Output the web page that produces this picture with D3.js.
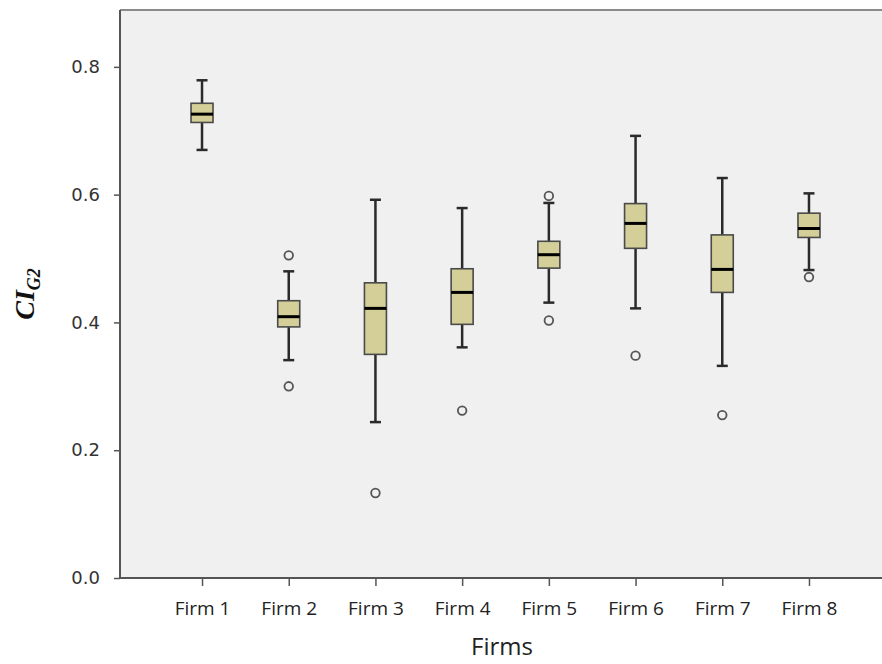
<!DOCTYPE html>
<html>
<head>
<meta charset="utf-8">
<script src="https://cdn.jsdelivr.net/npm/d3@7"></script>
<style>
  body { margin: 0; background: #fff; }
  svg { display: block; }
</style>
</head>
<body>
<div id="viz"></div>
<script>
// values
var firms = ["Firm 1", "Firm 2", "Firm 3", "Firm 4", "Firm 5", "Firm 6", "Firm 7", "Firm 8"];
var whiskerLow  = [0.670, 0.341, 0.244, 0.361, 0.431, 0.422, 0.332, 0.482];
var q1          = [0.713, 0.393, 0.350, 0.397, 0.485, 0.516, 0.447, 0.533];
var median      = [0.726, 0.409, 0.422, 0.447, 0.506, 0.555, 0.483, 0.547];
var q3          = [0.743, 0.434, 0.462, 0.484, 0.527, 0.586, 0.537, 0.571];
var whiskerHigh = [0.779, 0.480, 0.592, 0.579, 0.587, 0.692, 0.626, 0.602];
var outliers    = [[], [0.505, 0.300], [0.133], [0.262], [0.598, 0.403], [0.348], [0.255], [0.471]];
var yTicks = [0.0, 0.2, 0.4, 0.6, 0.8];

var W = 882, H = 664;
var plotLeft = 120, plotTop = 10, plotBottom = 578;

var svg = d3.select("#viz").append("svg")
  .attr("width", W)
  .attr("height", H);

var yScale = d3.scaleLinear()
  .domain([0, 0.889])
  .range([plotBottom, plotTop]);

var xScale = d3.scalePoint()
  .domain(firms)
  .range([plotLeft, 891])
  .padding(0.946);

// plot background
svg.append("rect")
  .attr("x", plotLeft)
  .attr("y", plotTop)
  .attr("width", W - plotLeft)
  .attr("height", plotBottom - plotTop)
  .attr("fill", "#f0f0f0");

// top frame line
svg.append("line")
  .attr("x1", plotLeft).attr("x2", W)
  .attr("y1", plotTop).attr("y2", plotTop)
  .attr("stroke", "#8a8a8a")
  .attr("stroke-width", 2);

// axes
var y_axis = d3.axisLeft(yScale)
  .tickValues(yTicks)
  .tickFormat(d3.format(".1f"))
  .tickSize(6)
  .tickPadding(14);

var gy = svg.append("g")
  .attr("transform", "translate(" + plotLeft + ",0)")
  .call(y_axis);
gy.select(".domain").attr("stroke", "#555").attr("stroke-width", 2).attr("d", "M0," + plotTop + "V" + plotBottom);
gy.selectAll(".tick line").attr("stroke", "#555").attr("stroke-width", 1.5);
gy.selectAll(".tick text")
  .style("font-family", "DejaVu Sans, sans-serif")
  .style("font-size", "18px")
  .attr("fill", "#333");

var x_axis = d3.axisBottom(xScale)
  .tickSize(8)
  .tickPadding(16);

var gx = svg.append("g")
  .attr("transform", "translate(0," + plotBottom + ")")
  .call(x_axis);
gx.select(".domain").attr("stroke", "#555").attr("stroke-width", 2).attr("d", "M" + plotLeft + ",0H" + W);
gx.selectAll(".tick line").attr("stroke", "#555").attr("stroke-width", 1.5);
gx.selectAll(".tick text")
  .style("font-family", "Open Sans, sans-serif")
  .style("font-size", "19px")
  .attr("fill", "#222");

// boxes
var boxW = 22, capW = 11;
var g = svg.append("g");

firms.forEach(function(f, i) {
  var cx = xScale(f);
  // whiskers
  g.append("line")
    .attr("x1", cx).attr("x2", cx)
    .attr("y1", yScale(whiskerHigh[i])).attr("y2", yScale(q3[i]))
    .attr("stroke", "#2a2a2a").attr("stroke-width", 2.5);
  g.append("line")
    .attr("x1", cx).attr("x2", cx)
    .attr("y1", yScale(q1[i])).attr("y2", yScale(whiskerLow[i]))
    .attr("stroke", "#2a2a2a").attr("stroke-width", 2.5);
  [whiskerHigh[i], whiskerLow[i]].forEach(function(v) {
    g.append("line")
      .attr("x1", cx - capW / 2).attr("x2", cx + capW / 2)
      .attr("y1", yScale(v)).attr("y2", yScale(v))
      .attr("stroke", "#2a2a2a").attr("stroke-width", 2.5);
  });
  // box
  g.append("rect")
    .attr("x", cx - boxW / 2)
    .attr("y", yScale(q3[i]))
    .attr("width", boxW)
    .attr("height", yScale(q1[i]) - yScale(q3[i]))
    .attr("fill", "#d4cf98")
    .attr("stroke", "#4a4a4a")
    .attr("stroke-width", 1.6);
  // median
  g.append("line")
    .attr("x1", cx - boxW / 2).attr("x2", cx + boxW / 2)
    .attr("y1", yScale(median[i])).attr("y2", yScale(median[i]))
    .attr("stroke", "#000").attr("stroke-width", 3);
  // outliers
  g.selectAll(null)
    .data(outliers[i])
    .enter()
    .append("circle")
      .attr("cx", cx)
      .attr("cy", function(d) { return yScale(d); })
      .attr("r", 4.3)
      .attr("fill", "#f0f0f0")
      .attr("stroke", "#555")
      .attr("stroke-width", 1.8);
});

// axis titles
var labelY = svg.append("text")
  .attr("transform", "translate(34,294) rotate(-90)")
  .attr("text-anchor", "middle")
  .style("font-family", "Liberation Serif, serif")
  .style("font-style", "italic")
  .style("font-weight", "bold")
  .style("font-size", "28px")
  .attr("fill", "#111");
labelY.append("tspan").text("CI");
labelY.append("tspan")
  .attr("dy", 6)
  .style("font-size", "18px")
  .text("G2");

svg.append("text")
  .attr("x", 502)
  .attr("y", 655)
  .attr("text-anchor", "middle")
  .style("font-family", "Open Sans, sans-serif")
  .style("font-size", "24px")
  .attr("fill", "#222")
  .text("Firms");
</script>
</body>
</html>
